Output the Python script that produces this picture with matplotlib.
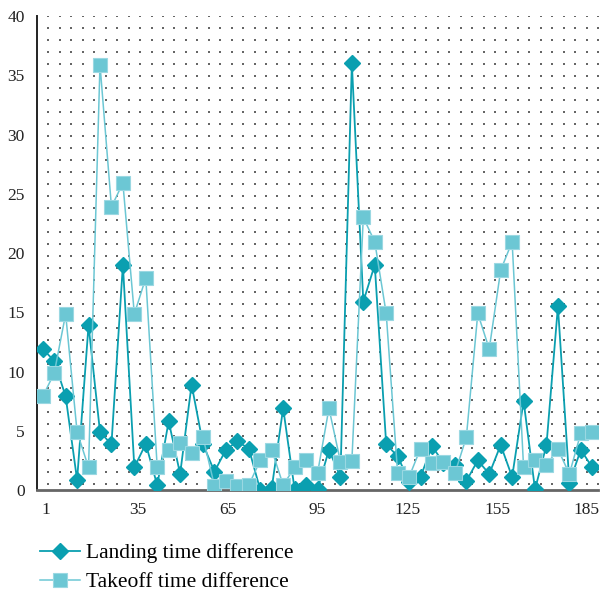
import matplotlib
matplotlib.use("Agg")
import matplotlib.pyplot as plt
import numpy as np

# values, one per category (49 categories)
landing = [11.9, 10.9, 7.9, 0.85, 13.9, 4.9, 3.85, 19.0, 1.9, 3.9,
           0.4, 5.8, 1.35, 8.9, 3.85, 1.55, 3.4, 4.1, 3.5, 0.0,
           0.15, 6.9, 0.05, 0.4, 0.05, 3.4, 1.1, 36.0, 15.9, 19.0,
           3.85, 2.85, 0.7, 1.1, 3.7, 2.3, 2.1, 0.75, 2.5, 1.35,
           3.8, 1.1, 7.5, 0.05, 3.8, 15.5, 0.6, 3.4, 1.9]
takeoff = [7.9, 9.85, 14.85, 4.9, 1.9, 35.9, 23.9, 25.9, 14.85, 17.9,
           1.9, 3.4, 3.95, 3.1, 4.45, 0.35, 0.75, 0.35, 0.42, 2.5,
           3.4, 0.42, 1.9, 2.5, 1.4, 6.9, 2.4, 2.45, 23.0, 20.95,
           14.9, 1.4, 1.1, 3.5, 2.25, 2.4, 1.4, 4.45, 14.9, 11.9,
           18.55, 20.95, 1.9, 2.5, 2.1, 3.45, 1.35, 4.8, 4.9]
xtick_labels = ["1", "35", "65", "95", "125", "155", "185"]
xtick_pos = [0.3, 8.3, 16.2, 24.0, 31.9, 39.7, 47.5]

dark = "#0a9fb0"
light = "#6cc7d4"

plt.rcParams["font.family"] = ["Liberation Serif", "DejaVu Serif"]

fig = plt.figure(figsize=(6.03, 5.95), dpi=100)
ax = fig.add_axes([0.0614, 0.1765, 0.9303, 0.7965])

n = len(landing)
x = np.arange(n)

# dotted background grid at category boundaries
gx, gy = np.meshgrid(np.arange(n) + 0.5, np.linspace(40, 0.5, 40))
ax.scatter(gx.ravel(), gy.ravel(), s=0.6, marker="s", color="#666666",
           linewidths=0, zorder=0)

ax.plot(x, landing, color=dark, lw=1.3, marker="D", ms=8.5,
        mfc=dark, mec=dark, label="Landing time difference", zorder=3)
ax.plot(x, takeoff, color=light, lw=1.1, marker="s", ms=10,
        mfc=light, mec="#9ad8e2", mew=0.8, label="Takeoff time difference",
        zorder=4)

ax.set_xlim(-0.5, n - 0.5)
ax.set_ylim(0, 40)
ax.set_yticks(range(0, 41, 5))
ax.set_xticks(xtick_pos)
ax.set_xticklabels(xtick_labels)
ax.tick_params(axis="both", length=0, labelsize=12.5, colors="#222222")
ax.tick_params(axis="y", pad=9)
ax.tick_params(axis="x", pad=9)

for s in ["top", "right"]:
    ax.spines[s].set_visible(False)
ax.spines["left"].set_color("#222222")
ax.spines["left"].set_linewidth(1.4)
ax.spines["bottom"].set_color("#666666")
ax.spines["bottom"].set_linewidth(2.0)

ax.legend(loc="upper left", bbox_to_anchor=(0.034, 0.12),
          bbox_transform=fig.transFigure, frameon=False, fontsize=15.5,
          handlelength=1.85, handletextpad=0.3, labelspacing=0.42)

fig.savefig("out.png", dpi=100)
